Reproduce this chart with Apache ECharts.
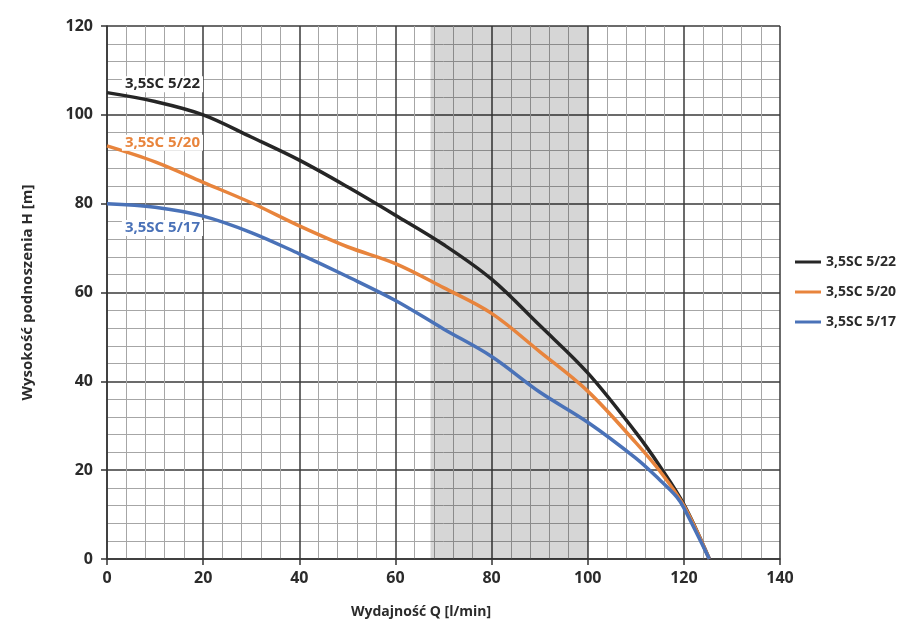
<!DOCTYPE html>
<html lang="pl">
<head>
    <meta charset="UTF-8">
    <title>Charakterystyka pomp 3,5SC</title>
    <script type="text/javascript" src="https://cdn.jsdelivr.net/npm/echarts@6/dist/echarts.min.js"></script>
    <style>
        body { margin: 0; background: #fff; }
    </style>
</head>
<body>
<div id="chartmain" style="width:911px;height:640px"></div>
<script>
    // dane: Q [l/min] -> H [m]
    var names = ['3,5SC 5/22', '3,5SC 5/20', '3,5SC 5/17'];
    var colors = ['#262626', '#E8843C', '#4A72B8'];

    var q22 = [0, 10, 20, 30, 40, 50, 60, 70, 80, 90, 100, 110, 115, 120, 125.3];
    var h22 = [105, 103, 100, 95, 89.8, 83.8, 77.4, 70.8, 63, 52.6, 41.9, 28.5, 20.9, 12.3, 0];

    var q20 = [0, 10, 20, 30, 40, 50, 60, 70, 80, 90, 100, 110, 115, 120, 125.3];
    var h20 = [93, 89.4, 84.8, 80.2, 75, 70.3, 66.5, 61.1, 55.3, 46.7, 37.8, 26.2, 19.8, 12, 0];

    var q17 = [0, 10, 20, 30, 40, 50, 60, 70, 80, 90, 100, 110, 115, 118.5, 120, 125.3];
    var h17 = [80, 79.2, 77.2, 73.5, 68.7, 63.6, 58.2, 51.8, 45.6, 37.6, 30.8, 22.7, 17.8, 14, 11.5, 0];

    // zakres zalecanej pracy (szare pole)
    var bandFrom = 67.3;
    var bandTo = 100;

    // miejsca opisów krzywych
    var labelAt = [[3.0, 106.9], [3.0, 93.7], [3.0, 74.5]];

    var xTicks = [0, 140, 20];
    var yTicks = [0, 120, 20];

    function pairs(xs, ys) {
        var out = [];
        for (var i = 0; i < xs.length; i++) {
            out.push([xs[i], ys[i]]);
        }
        return out;
    }

    var seriesData = [pairs(q22, h22), pairs(q20, h20), pairs(q17, h17)];
    var font = '"Open Sans", Lato, sans-serif';

    var series = [];
    for (var s = 0; s < 3; s++) {
        var item = {
            name: names[s],
            type: 'line',
            smooth: 0.35,
            showSymbol: false,
            data: seriesData[s],
            lineStyle: { color: colors[s], width: 3.5 },
            itemStyle: { color: colors[s] },
            markPoint: {
                symbol: 'rect',
                symbolSize: 1,
                itemStyle: { color: 'rgba(0,0,0,0)' },
                silent: true,
                data: [{
                    coord: labelAt[s],
                    label: {
                        show: true,
                        position: 'right',
                        distance: 0,
                        formatter: names[s],
                        color: colors[s],
                        fontFamily: font,
                        fontWeight: 'bold',
                        fontSize: 15,
                        backgroundColor: '#fff',
                        padding: [1, 3, 0, 3]
                    }
                }]
            }
        };
        if (s === 0) {
            item.markArea = {
                silent: true,
                itemStyle: { color: 'rgba(0,0,0,0.16)' },
                data: [[{ xAxis: bandFrom }, { xAxis: bandTo }]]
            };
        }
        series.push(item);
    }

    var option = {
        animation: false,
        backgroundColor: '#fff',
        grid: { left: 107, right: 131, top: 26, bottom: 81 },
        legend: {
            orient: 'vertical',
            left: 790,
            top: 250,
            itemGap: 16,
            itemWidth: 26,
            itemHeight: 3,
            icon: 'rect',
            data: names,
            textStyle: { fontFamily: font, fontWeight: 'bold', fontSize: 14, color: '#2b2b2b' }
        },
        xAxis: {
            type: 'value',
            min: xTicks[0],
            max: xTicks[1],
            interval: xTicks[2],
            name: 'Wydajność Q [l/min]',
            nameLocation: 'middle',
            nameGap: 46,
            nameTextStyle: { fontFamily: font, fontWeight: 'bold', fontSize: 14, color: '#2b2b2b', padding: [0, 45, 0, 0] },
            axisLine: { lineStyle: { color: '#333', width: 1.5 } },
            axisTick: { show: true, length: 6, lineStyle: { color: '#333', width: 1.5 } },
            axisLabel: { fontFamily: font, fontWeight: 'bold', fontSize: 16, color: '#2b2b2b', margin: 11 },
            splitLine: { show: true, lineStyle: { color: '#3a3a3a', width: 1.5 } },
            minorTick: { show: false, splitNumber: 5 },
            minorSplitLine: { show: true, lineStyle: { color: '#a6a6a6', width: 1 } }
        },
        yAxis: {
            type: 'value',
            min: yTicks[0],
            max: yTicks[1],
            interval: yTicks[2],
            name: 'Wysokość podnoszenia H [m]',
            nameLocation: 'middle',
            nameGap: 72,
            nameTextStyle: { fontFamily: font, fontWeight: 'bold', fontSize: 15, color: '#2b2b2b' },
            axisLine: { show: true, lineStyle: { color: '#333', width: 1.5 } },
            axisTick: { show: true, length: 6, lineStyle: { color: '#333', width: 1.5 } },
            axisLabel: { fontFamily: font, fontWeight: 'bold', fontSize: 16, color: '#2b2b2b', margin: 14 },
            splitLine: { show: true, lineStyle: { color: '#3a3a3a', width: 1.5 } },
            minorTick: { show: false, splitNumber: 5 },
            minorSplitLine: { show: true, lineStyle: { color: '#a6a6a6', width: 1 } }
        },
        series: series
    };

    var myChart = echarts.init(document.getElementById('chartmain'));
    myChart.setOption(option);
</script>
</body>
</html>
